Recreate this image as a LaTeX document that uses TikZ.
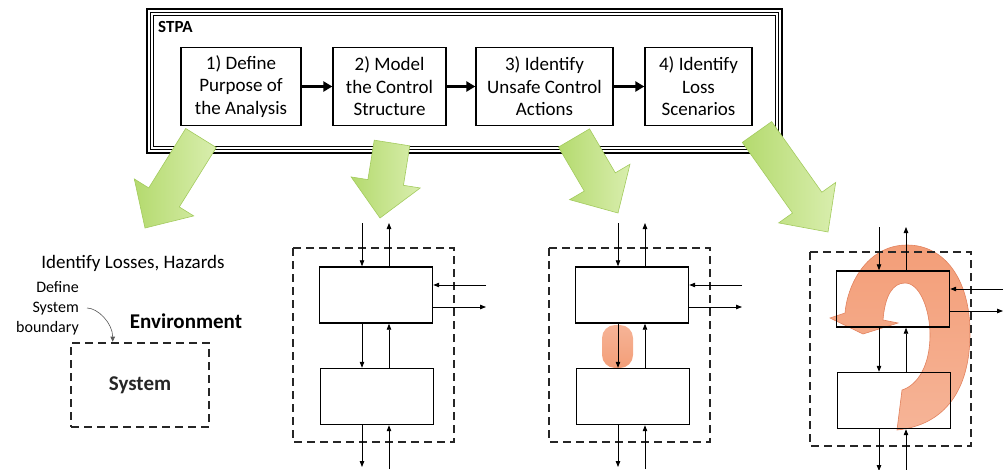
\documentclass[tikz,border=0pt]{standalone}
\usepackage{fontspec}
\setmainfont{Carlito}
\usetikzlibrary{arrows.meta,calc}

\definecolor{grnA}{HTML}{B4DA6E}
\definecolor{grnB}{HTML}{D9EEAE}
\definecolor{grnD}{HTML}{A3CB5E}
\definecolor{orgA}{HTML}{F39E78}
\definecolor{orgB}{HTML}{F6B497}
\definecolor{orgD}{HTML}{E2825E}

\tikzset{
  stepbox/.style={draw, line width=1.3pt, minimum height=78pt, inner sep=0pt,
    align=center, font=\fontsize{19}{22.5}\selectfont},
  ctrlbox/.style={draw, line width=1.4pt, minimum width=113pt, minimum height=56pt, inner sep=0pt},
  bnd/.style={line width=2.6pt, dash pattern=on 8pt off 5pt, black!85},
  sig/.style={line width=0.8pt, -{Triangle[length=6pt,width=4.5pt]}},
  flow/.style={line width=2.8pt, -{Triangle[length=9pt,width=10pt]}},
}

% block arrow: #1 tail, #2 tip
\newcommand{\greenarrow}[2]{%
  \coordinate (hb) at ($(#2)!36pt!(#1)$);
  \shade[left color=grnA, right color=grnB, draw=grnD, line width=0.6pt]
    ($(#1)!18pt!90:(#2)$) -- ($(hb)!18pt!90:(#2)$) -- ($(hb)!35pt!90:(#2)$) -- (#2)
    -- ($(hb)!35pt!-90:(#2)$) -- ($(hb)!18pt!-90:(#2)$) -- ($(#1)!18pt!-90:(#2)$) -- cycle;
}

\begin{document}
\begin{tikzpicture}[x=1pt,y=1pt]
\useasboundingbox (0,0) rectangle (1007,-469);

% STPA frame
\draw[line width=1.6pt] (147,-9) rectangle (782,-153);
\draw[line width=0.8pt] (150.5,-12.5) rectangle (778.5,-149.5);
\draw[line width=1pt] (153.5,-15.5) rectangle (775.5,-146.5);
\node[anchor=west, inner sep=0pt, font=\fontsize{17}{20}\selectfont\bfseries] (stpa) at (158,-27) {STPA};

\node[stepbox, minimum width=120pt] (s1) at (241,-86.5) {1) Define\\Purpose of\\the Analysis};
\node[stepbox, minimum width=113pt] (s2) at (389.5,-86.5) {2) Model\\the Control\\Structure};
\node[stepbox, minimum width=137pt] (s3) at (544.5,-86.5) {3) Identify\\Unsafe Control\\Actions};
\node[stepbox, minimum width=107pt] (s4) at (698.5,-86.5) {4) Identify\\Loss\\Scenarios};
\draw[flow] (s1) -- (s2);
\draw[flow] (s2) -- (s3);
\draw[flow] (s3) -- (s4);

% green arrows
\coordinate (g1t) at (201,-138); \coordinate (g1h) at (145,-228);
\coordinate (g2t) at (392,-143); \coordinate (g2h) at (380,-218);
\coordinate (g3t) at (574,-138); \coordinate (g3h) at (618,-213);
\coordinate (g4t) at (757,-132); \coordinate (g4h) at (828,-232);
\greenarrow{g1t}{g1h}
\greenarrow{g2t}{g2h}
\greenarrow{g3t}{g3h}
\greenarrow{g4t}{g4h}

% losses and system boundary
\node[font=\fontsize{19}{22}\selectfont] (loss) at (133,-263) {Identify Losses, Hazards};
\node[draw, bnd, minimum width=138pt, minimum height=84pt,
  font=\fontsize{21}{24}\selectfont\bfseries] (sys) at (140,-385) {System};
\node[font=\fontsize{21}{24}\selectfont\bfseries] (env) at (186,-321) {Environment};
\node[anchor=east, align=right, inner sep=0pt, font=\fontsize{16}{20}\selectfont] (bound) at (79,-308)
  {Define\\System\\boundary};
\coordinate (bt) at ($(sys.north west)+(43,0)$);
\draw[line width=0.6pt, black!65, shorten <=8pt, -{Triangle[length=5pt,width=4.5pt]}]
  (bound.east) to[out=0,in=90] (bt);

% unsafe control action and loss scenario
\shade[top color=orgB, bottom color=orgA, rounded corners=13pt] (602,-325) rectangle (633,-368);
\shade[top color=orgA, bottom color=orgB, draw=orgD, line width=0.6pt]
  (897,-430) .. controls (945,-425) and (970,-390) .. (970,-333)
  .. controls (970,-280) and (945,-245) .. (907,-245)
  .. controls (870,-245) and (848,-280) .. (845,-313)
  -- (830,-318) -- (863,-334) -- (898,-323) -- (883,-320)
  .. controls (885,-295) and (893,-283) .. (905,-283)
  .. controls (920,-283) and (930,-310) .. (930,-335)
  .. controls (930,-365) and (918,-385) .. (902,-390) -- cycle;

% control structures
\foreach \dx/\dy/\p in {0/0/b, 256/0/c, 517/-4/d} {
  \begin{scope}[shift={(\dx,\dy)}]
    \draw[bnd] (293,-248) rectangle (454,-442);
    \node[ctrlbox] (up\p) at (376,-295) {};
    \node[ctrlbox] (lo\p) at (377,-396.5) {};
    \coordinate (ti\p) at (362,-223); \coordinate (to\p) at (389,-223);
    \coordinate (ri\p) at (486,-285); \coordinate (ro\p) at (486,-307);
    \coordinate (bo\p) at (362,-467); \coordinate (bi\p) at (389,-469);
    \draw[sig] (ti\p) -- (ti\p |- up\p.north);
    \draw[sig] (to\p |- up\p.north) -- (to\p);
    \draw[sig] (ri\p) -- (ri\p -| up\p.east);
    \draw[sig] (ro\p -| up\p.east) -- (ro\p);
    \draw[sig] (ti\p |- up\p.south) -- (ti\p |- lo\p.north);
    \draw[sig] (to\p |- lo\p.north) -- (to\p |- up\p.south);
    \draw[sig] (ti\p |- lo\p.south) -- (bo\p);
    \draw[sig] (bi\p) -- (to\p |- lo\p.south);
  \end{scope}
}
\end{tikzpicture}
\end{document}
